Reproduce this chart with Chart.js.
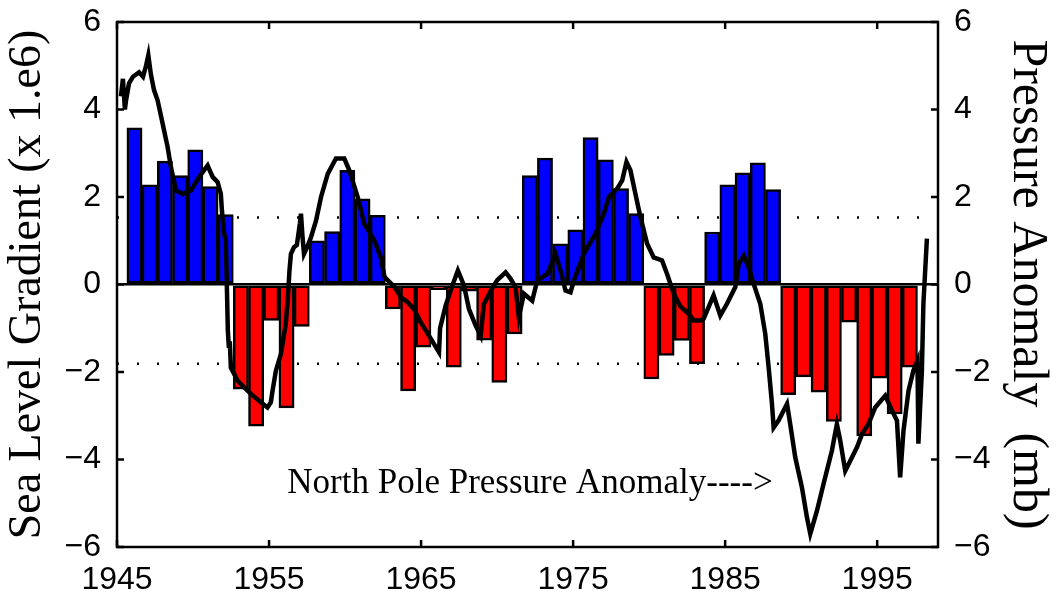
<!DOCTYPE html>
<html lang="en">
<head>
<meta charset="UTF-8" />
<title>Sea Level Gradient and North Pole Pressure Anomaly</title>
<style>
  body {
    margin: 0;
    background: #fff;
  }
  #wrap {
    width: 1057px;
    height: 598px;
  }
</style>
</head>
<body>
<div id="wrap">
  <canvas id="chart" width="1057" height="598"></canvas>
</div>

<script src="https://cdn.jsdelivr.net/npm/chart.js"></script>
<script>
  // yearly sea level gradient bars (x 1.e6)
  const barYears = [1946, 1947, 1948, 1949, 1950, 1951, 1952, 1953, 1954, 1955,
    1956, 1957, 1958, 1959, 1960, 1961, 1962, 1963, 1964, 1965,
    1966, 1967, 1968, 1969, 1970, 1971, 1972, 1973, 1974, 1975,
    1976, 1977, 1978, 1979, 1980, 1981, 1982, 1983, 1984, 1985,
    1986, 1987, 1988, 1989, 1990, 1991, 1992, 1993, 1994, 1995,
    1996, 1997];
  const gradientValues = [3.58, 2.28, 2.82, 2.49, 3.08, 2.24, 1.60, -2.39, -3.24, -0.82,
    -2.82, -0.96, 1.00, 1.21, 2.61, 1.96, 1.58, -0.56, -2.43, -1.43,
    -0.12, -1.89, -0.15, -1.27, -2.24, -1.13, 2.49, 2.89, 0.93, 1.25,
    3.36, 2.85, 2.19, 1.62, -2.16, -1.62, -1.28, -1.81, 1.20, 2.28,
    2.55, 2.78, 2.17, -2.52, -2.11, -2.46, -3.13, -0.86, -3.46, -2.14,
    -2.96, -1.89];
  // bars are plotted a little past the start of the year
  const BAR_SHIFT = 0.15;

  // north pole pressure anomaly (mb)
  const pressureYears = [1945.26, 1945.39, 1945.52, 1945.59, 1945.79, 1946.05, 1946.25, 1946.45, 1946.71, 1946.91,
    1947.06, 1947.23, 1947.43, 1947.67, 1948.0, 1948.33, 1948.55, 1948.88, 1949.32, 1949.86,
    1950.41, 1950.96, 1951.29, 1951.62, 1951.83, 1951.9, 1952.05, 1952.16, 1952.23, 1952.29,
    1952.36, 1952.42, 1952.49, 1952.93, 1953.8, 1954.46, 1954.9, 1955.12, 1955.23, 1955.45,
    1955.78, 1956.1, 1956.24, 1956.34, 1956.44, 1956.64, 1956.83, 1957.03, 1957.1, 1957.2,
    1957.3, 1957.5, 1957.76, 1958.09, 1958.42, 1958.86, 1959.4, 1959.95, 1960.28, 1960.83,
    1961.26, 1961.92, 1962.35, 1962.6, 1963.26, 1963.7, 1964.1, 1964.53, 1964.97, 1965.52,
    1966.18, 1966.25, 1966.62, 1967.06, 1967.42, 1967.82, 1968.15, 1968.59, 1968.92, 1969.13,
    1969.57, 1970.01, 1970.56, 1970.89, 1971.21, 1971.43, 1971.76, 1972.31, 1972.64, 1973.3,
    1973.84, 1974.17, 1974.5, 1974.83, 1975.05, 1975.7, 1976.47, 1977.02, 1977.35, 1977.9,
    1978.23, 1978.51, 1978.77, 1979.1, 1979.43, 1979.87, 1980.3, 1980.85, 1981.18, 1981.62,
    1982.06, 1982.6, 1982.93, 1983.37, 1983.59, 1984.24, 1984.68, 1985.12, 1985.67, 1985.89,
    1986.22, 1986.54, 1986.87, 1987.31, 1987.64, 1987.86, 1988.08, 1988.19, 1988.51, 1989.07,
    1989.28, 1989.61, 1990.05, 1990.38, 1990.6, 1991.04, 1991.47, 1992.02, 1992.35, 1992.57,
    1992.9, 1993.23, 1993.67, 1994.0, 1994.43, 1994.87, 1995.53, 1995.97, 1996.3, 1996.51,
    1996.73, 1997.06, 1997.38, 1997.65, 1997.71, 1997.94, 1998.04, 1998.27];
  const pressureValues = [4.3, 4.7, 4.0, 4.2, 4.6, 4.75, 4.8, 4.85, 4.75, 5.0,
    5.24, 4.8, 4.45, 4.21, 3.68, 3.14, 2.68, 2.15, 2.07, 2.15,
    2.46, 2.72, 2.46, 2.34, 2.07, 1.69, 1.16, 1.0, -0.1, -1.05,
    -1.45, -1.3, -1.9, -2.2, -2.5, -2.69, -2.81, -2.69, -2.43, -1.97,
    -1.59, -0.9, -0.3, 0.3, 0.7, 0.85, 0.9, 1.4, 1.62, 1.1,
    0.7, 0.85, 1.08, 1.46, 2.0, 2.53, 2.88, 2.88, 2.61, 2.0,
    1.39, 1.01, 0.62, 0.17, -0.06, -0.3, -0.4, -0.56, -0.86, -1.17,
    -1.55, -1.0, -0.48, -0.02, 0.32, -0.02, -0.56, -0.94, -1.17, -0.45,
    -0.15, 0.1, 0.28, 0.13, -0.06, -0.75, -0.21, -0.37, 0.09, 0.24,
    0.70, 0.32, -0.14, -0.18, 0.09, 0.70, 1.16, 1.62, 2.0, 2.19,
    2.38, 2.80, 2.61, 2.07, 1.54, 0.93, 0.62, 0.55, 0.24, -0.21,
    -0.5, -0.67, -0.82, -0.82, -0.78, -0.25, -0.71, -0.44, -0.06, 0.47,
    0.66, 0.40, 0.02, -0.44, -1.13, -1.89, -2.73, -3.27, -3.11, -2.73,
    -3.19, -3.95, -4.64, -5.32, -5.70, -5.17, -4.56, -3.80, -3.19, -3.57,
    -4.26, -4.03, -3.72, -3.42, -3.19, -2.81, -2.54, -2.88, -3.11, -4.41,
    -3.34, -2.43, -1.97, -1.74, -3.64, -1.97, -0.44, 1.05];

  // dotted reference levels
  const refLevels = [1.53, -1.81];

  // axes
  const xMin = 1945, xMax = 1999;
  const xTickYears = [1945, 1955, 1965, 1975, 1985, 1995];
  const yMin = -6, yMax = 6;
  const leftTitle = 'Sea Level Gradient (x 1.e6)';
  const rightTitle = 'Pressure Anomaly  (mb)';
  const note = { text: 'North Pole Pressure Anomaly---->', x: 1956.2, y: -4.55 };

  const barData = barYears.map((yr, i) => ({ x: yr + BAR_SHIFT, y: gradientValues[i] }));
  const lineData = pressureYears.map((yr, i) => ({ x: yr, y: pressureValues[i] }));
  const refSets = refLevels.map(v => ({
    type: 'line',
    data: [{ x: xMin, y: v }, { x: xMax, y: v }],
    borderColor: '#000',
    borderWidth: 2.5,
    borderDash: [2, 18],
    pointRadius: 0,
    yAxisID: 'y',
    order: 3
  }));

  const serif = "'Liberation Serif', 'Times New Roman', serif";
  const xTickFont = { family: "'Liberation Sans', Arial, sans-serif", size: 32 };
  // small lineHeight keeps the top/bottom label padding from pushing the plot area in
  const yTickFont = { family: "'Liberation Sans', Arial, sans-serif", size: 32, lineHeight: 0.375 };
  const minus = v => String(v).replace('-', '\u2212');

  // box, inward ticks and the note
  const framePlugin = {
    id: 'frame',
    afterDraw(chart) {
      const { ctx, chartArea: a, scales } = chart;
      ctx.save();
      ctx.strokeStyle = '#000';
      ctx.lineWidth = 2.5;
      ctx.strokeRect(a.left, a.top, a.right - a.left, a.bottom - a.top);
      ctx.beginPath();
      xTickYears.forEach(t => {
        const px = scales.x.getPixelForValue(t);
        ctx.moveTo(px, a.bottom); ctx.lineTo(px, a.bottom - 7);
        ctx.moveTo(px, a.top); ctx.lineTo(px, a.top + 7);
      });
      for (let v = yMin; v <= yMax; v += 2) {
        const py = scales.y.getPixelForValue(v);
        ctx.moveTo(a.left, py); ctx.lineTo(a.left + 7, py);
        ctx.moveTo(a.right, py); ctx.lineTo(a.right - 7, py);
      }
      ctx.stroke();

      ctx.fillStyle = '#000';
      ctx.font = '35px ' + serif;
      ctx.textBaseline = 'middle';
      ctx.textAlign = 'left';
      ctx.fillText(note.text, scales.x.getPixelForValue(note.x), scales.y.getPixelForValue(note.y));
      ctx.restore();
    }
  };

  new Chart(document.getElementById('chart').getContext('2d'), {
    type: 'bar',
    data: {
      datasets: [
        {
          type: 'line',
          label: 'Pressure anomaly',
          data: lineData,
          borderColor: '#000',
          borderWidth: 4.5,
          pointRadius: 0,
          tension: 0,
          yAxisID: 'y2',
          order: 1
        },
        {
          type: 'bar',
          label: 'Sea level gradient',
          data: barData,
          backgroundColor: ctx => (ctx.raw && ctx.raw.y >= 0) ? '#0000ff' : '#ff0000',
          borderColor: '#000',
          borderWidth: 2.5,
          borderSkipped: false,
          barPercentage: 1,
          categoryPercentage: 1,
          yAxisID: 'y',
          order: 2
        },
        ...refSets
      ]
    },
    options: {
      responsive: false,
      animation: false,
      layout: { padding: 0 },
      plugins: {
        legend: { display: false },
        tooltip: { enabled: false }
      },
      scales: {
        x: {
          type: 'linear',
          offset: false,
          min: xMin,
          max: xMax,
          afterBuildTicks: s => { s.ticks = xTickYears.map(v => ({ value: v })); },
          afterFit: s => { s.height = 51; },
          grid: { display: false, drawTicks: false, offset: false },
          border: { display: false },
          ticks: { color: '#000', font: xTickFont, padding: 14, maxRotation: 0, autoSkip: false,
            callback: v => String(v) }
        },
        y: {
          position: 'left',
          min: yMin,
          max: yMax,
          afterFit: s => { s.width = 117; },
          grid: {
            drawTicks: false,
            color: c => c.tick && c.tick.value === 0 ? '#000' : 'rgba(0,0,0,0)',
            lineWidth: 2.5
          },
          border: { display: false },
          ticks: { stepSize: 2, color: '#000', font: yTickFont, padding: 16, callback: minus },
          title: { display: true, text: leftTitle, color: '#000', font: { family: serif, size: 46 }, padding: 0 }
        },
        y2: {
          position: 'right',
          min: yMin,
          max: yMax,
          afterFit: s => { s.width = 119; },
          grid: { display: false, drawTicks: false },
          border: { display: false },
          ticks: { stepSize: 2, color: '#000', font: yTickFont, padding: 16, callback: minus },
          title: { display: true, text: rightTitle, color: '#000', font: { family: serif, size: 50 }, padding: 0 }
        }
      }
    },
    plugins: [framePlugin]
  });
</script>
</body>
</html>
